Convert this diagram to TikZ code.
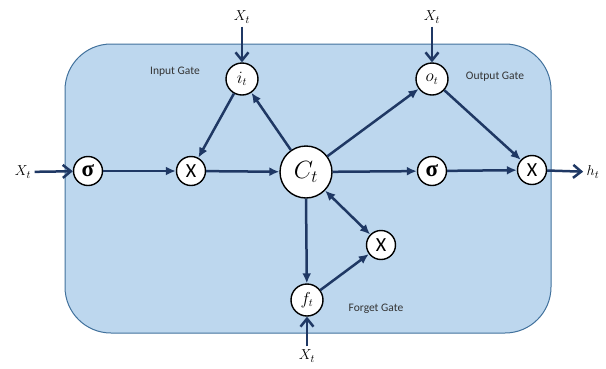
\documentclass[tikz,border=0pt]{standalone}
\usepackage{fontspec}
\setmainfont{Carlito}
\newfontfamily\sigfont{Liberation Serif}
\usetikzlibrary{arrows.meta}
\definecolor{cellfill}{RGB}{189,215,238}
\definecolor{celledge}{RGB}{65,113,156}
\definecolor{navy}{RGB}{31,56,100}
\newcommand{\sig}{{\sigfont\bfseries\fontsize{23}{23}\selectfont σ}}
\tikzset{
  gate/.style={draw,circle,fill=white,line width=1.4pt,minimum size=32pt,inner sep=0pt,font=\fontsize{16}{16}\selectfont},
  op/.style={draw,circle,fill=white,line width=1.4pt,minimum size=29pt,inner sep=0pt,font=\fontsize{20}{20}\selectfont},
  flow/.style={navy,line width=2.5pt,-{Latex[length=10pt,width=9pt]}},
  feed/.style={navy,line width=2.5pt,-{Straight Barb[length=8pt,width=13pt]}},
  lbl/.style={font=\fontsize{11.5}{12}\selectfont,text=black!80},
  var/.style={font=\fontsize{15}{15}\selectfont}
}
\begin{document}
\begin{tikzpicture}[x=1pt,y=-1pt]
  \useasboundingbox (0,0) rectangle (606,368);
  \draw[celledge,fill=cellfill,line width=1pt,rounded corners=46pt] (65,44) rectangle (551,333);
  % cell
  \node[draw,circle,fill=white,line width=1.4pt,minimum size=52pt,inner sep=0pt,font=\fontsize{24}{24}\selectfont] (ct) at (306,172) {$C_t$};
  \node[op] (sig1) at (88,171) {\sig};
  \node[op] (mul1) at (191,171) {X};
  \node[gate] (it) at (242,79) {$i_t$};
  \node[gate] (ot) at (432,79) {$o_t$};
  \node[op] (sig2) at (432,171) {\sig};
  \node[op] (mul2) at (532,170) {X};
  \node[op] (mulf) at (381,245) {X};
  \node[gate] (ft) at (307,300) {$f_t$};
  % inputs and output
  \node[var] (xl) at (23,172) {$X_t$};
  \node[var] (xi) at (242,17) {$X_t$};
  \node[var] (xo) at (432,17) {$X_t$};
  \node[var] (xf) at (307,356) {$X_t$};
  \node[var] (ht) at (593,172) {$h_t$};
  % gate names
  \node[lbl] (lin) at (175,72) {Input Gate};
  \node[lbl] (lout) at (495,77) {Output Gate};
  \node[lbl] (lfor) at (376,309) {Forget Gate};
  \draw[feed] (xl) -- (sig1);
  \draw[feed] (xi) -- (it);
  \draw[feed] (xo) -- (ot);
  \draw[feed] (xf) -- (ft);
  \draw[feed] (mul2) -- (ht);
  \draw[flow] (sig1) -- (mul1);
  \draw[flow] (mul1) -- (ct);
  \draw[flow] (it) -- (mul1);
  \draw[flow] (ct) -- (it);
  \draw[flow] (ct) -- (ot);
  \draw[flow] (ot) -- (mul2);
  \draw[flow] (ct) -- (sig2);
  \draw[flow] (sig2) -- (mul2);
  \draw[flow] (ct.south) -- (ft);
  \draw[flow] (ft) -- (mulf);
  \draw[flow,{Latex[length=10pt,width=9pt]}-{Latex[length=10pt,width=9pt]}] (ct) -- (mulf);
\end{tikzpicture}
\end{document}
